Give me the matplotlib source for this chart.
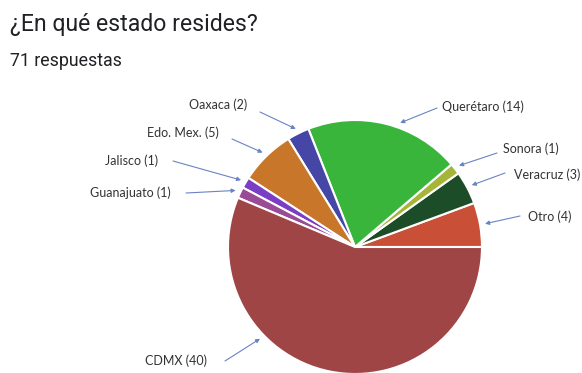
import matplotlib.pyplot as plt
import numpy as np

## Data
labels = ["Otro", "Veracruz", "Sonora", "Querétaro", "Oaxaca",
          "Edo. Mex.", "Jalisco", "Guanajuato", "CDMX"]
values = [4, 3, 1, 14, 2, 5, 1, 1, 40]
colors = ["#c94f37", "#1c4c28", "#a6b53a", "#3ab53c", "#4646a6",
          "#c8772a", "#7a3ec6", "#9a4b98", "#a04545"]

title = "¿En qué estado resides?"
subtitle = "71 respuestas"

## Layout (pixel coords, origin top-left)
W, H = 582, 373
cx, cy, R = 355, 247, 127
# text anchor (x, y, ha) and arrow start for each label
text_pos = {
    "Otro": (528, 217, "left"),
    "Veracruz": (514, 175, "left"),
    "Sonora": (503, 149, "left"),
    "Querétaro": (442, 107, "left"),
    "Oaxaca": (247, 105, "right"),
    "Edo. Mex.": (219, 133, "right"),
    "Jalisco": (158, 161, "right"),
    "Guanajuato": (171, 193, "right"),
    "CDMX": (207, 361, "right"),
}
arrow_start = {
    "Otro": (520, 216), "Veracruz": (505, 173), "Sonora": (497, 153),
    "Querétaro": (437, 108), "Oaxaca": (260, 112), "Edo. Mex.": (232, 139),
    "Jalisco": (173, 161), "Guanajuato": (186, 193), "CDMX": (225, 361),
}
angle_override = {"Querétaro": 70, "CDMX": 224}


def Y(y):
    return H - y


fig = plt.figure(figsize=(W / 100, H / 100), dpi=100)
ax = fig.add_axes([0, 0, 1, 1])

wedges, _ = ax.pie(values, colors=colors, startangle=0, counterclock=True,
                   center=(cx, Y(cy)), radius=R,
                   wedgeprops=dict(edgecolor="white", linewidth=1.5))

ax.set_xlim(0, W)
ax.set_ylim(0, H)
ax.set_aspect("equal")
ax.axis("off")

fig.text(10 / W, 1 - 31 / H, title, fontsize=16.6, family="Roboto",
         color="#202124", va="baseline", ha="left")
fig.text(10 / W, 1 - 66.5 / H, subtitle, fontsize=12.8, family="Roboto",
         color="#202124", va="baseline", ha="left")

arrow_color = "#6a84c2"
for w, lab, v in zip(wedges, labels, values):
    ang = angle_override.get(lab, (w.theta1 + w.theta2) / 2)
    tip = (cx + 1.04 * R * np.cos(np.radians(ang)),
           Y(cy) + 1.04 * R * np.sin(np.radians(ang)))
    tx, ty, ha = text_pos[lab]
    ax.text(tx, Y(ty), f"{lab} ({v})", ha=ha, va="center", fontsize=9,
            family="Lato", color="#333333")
    sx, sy = arrow_start[lab]
    ax.annotate("", xy=tip, xytext=(sx, Y(sy)),
                arrowprops=dict(arrowstyle="-|>", color=arrow_color, lw=0.8,
                                mutation_scale=6, shrinkA=0, shrinkB=0))

fig.savefig("out.png", dpi=100)
